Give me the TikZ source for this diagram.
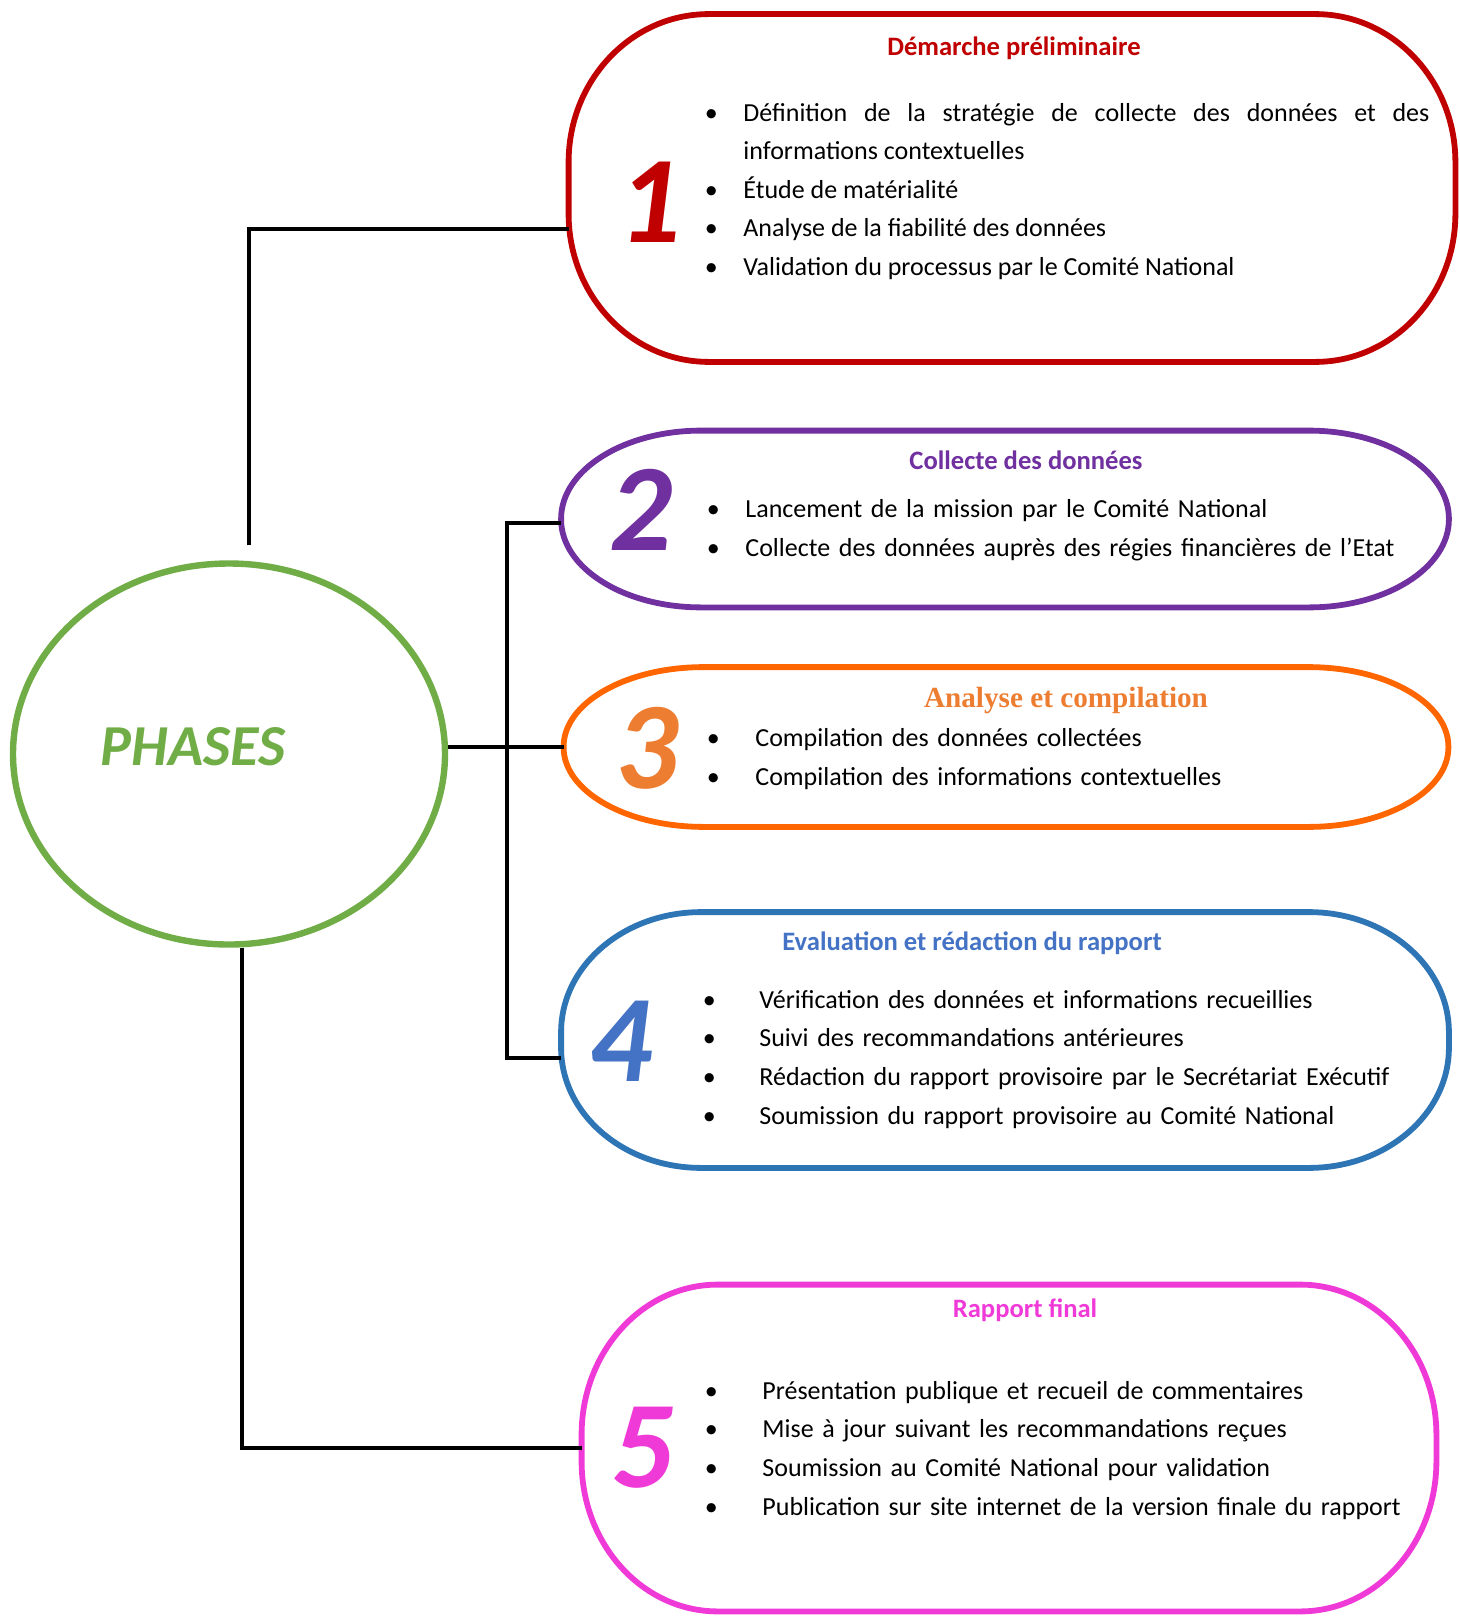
\documentclass[tikz,border=0pt]{standalone}
\usepackage{fontspec}
\setmainfont{Carlito}
\newfontfamily\serifhead{Liberation Serif}
\usepackage{enumitem}
\usetikzlibrary{shapes.geometric, positioning, calc}
\definecolor{phgreen}{HTML}{70AD47}
\definecolor{phred}{HTML}{C00000}
\definecolor{phpurple}{HTML}{7030A0}
\definecolor{phorange}{HTML}{FF6600}
\definecolor{phorangetxt}{HTML}{ED7D31}
\definecolor{phblue}{HTML}{2E75B6}
\definecolor{phbluetxt}{HTML}{4472C4}
\definecolor{phpink}{HTML}{F03AD8}

\hyphenpenalty=10000
\exhyphenpenalty=10000
\setlist[itemize]{label=\makebox[0pt]{\textbullet}, labelwidth=0pt, topsep=0pt, partopsep=0pt, itemsep=0pt, parsep=0pt}

% outline of a phase box: node, colour, corner x radius, corner y radius
\newcommand{\phaseframe}[4]{%
  \draw[frame, draw=#2] ([xshift=#3]#1.north west) -- ([xshift=-#3]#1.north east)
    arc[start angle=90, end angle=0, x radius=#3, y radius=#4]
    -- ([yshift=#4]#1.south east)
    arc[start angle=0, end angle=-90, x radius=#3, y radius=#4]
    -- ([xshift=#3]#1.south west)
    arc[start angle=270, end angle=180, x radius=#3, y radius=#4]
    -- ([yshift=-#4]#1.north west)
    arc[start angle=180, end angle=90, x radius=#3, y radius=#4] -- cycle;}

\begin{document}
\begin{tikzpicture}[
    x=0.5pt, y=-0.5pt,
    slot/.style={rectangle, draw=none, inner sep=0pt},
    frame/.style={line width=2.9pt},
    link/.style={line width=1.8pt, black},
    num/.style={inner sep=0pt, font=\fontsize{62}{62}\selectfont\bfseries\itshape},
    head/.style={inner sep=0pt, font=\fontsize{13.3}{15}\selectfont\bfseries},
    items/.style={inner sep=0pt, anchor=west, font=\fontsize{13}{19.3}\selectfont, align=left, text width=370pt}
]

    \useasboundingbox (0,0) rectangle (1460,1616);

    % centre
    \node[ellipse, draw=phgreen, line width=3.2pt, minimum width=216pt, minimum height=190.5pt, inner sep=0pt] (phases) at (229,754) {};
    \node[inner sep=0pt, text=phgreen, font=\fontsize{29}{29}\selectfont\bfseries\itshape] (phtxt) at (193,747) {PHASES};

    % phase 1
    \node[slot, minimum width=443pt, minimum height=173.5pt] (b1) at (1012,188) {};
    \phaseframe{b1}{phred}{70pt}{74pt}
    \node[head, text=phred] (t1) at (1014,48) {Démarche préliminaire};
    \node[num, text=phred] (n1) at (650,202) {1};
    \node[items, align=justify, text width=359pt] (l1) at (711,181) {%
      \begin{itemize}[leftmargin=16pt, labelsep=16pt]
        \item Définition de la stratégie de collecte des données et des\linebreak informations contextuelles
        \item Étude de matérialité
        \item Analyse de la fiabilité des données
        \item Validation du processus par le Comité National
      \end{itemize}};

    % phase 2
    \node[slot, minimum width=443.5pt, minimum height=88pt] (b2) at (1005,519) {};
    \phaseframe{b2}{phpurple}{70pt}{44pt}
    \node[head, text=phpurple] (t2) at (1026,460) {Collecte des données};
    \node[num, text=phpurple] (n2) at (641,510) {2};
    \node[items] (l2) at (713,520) {%
      \begin{itemize}[leftmargin=16pt, labelsep=16pt]
        \item Lancement de la mission par le Comité National
        \item Collecte des données auprès des régies financières de l’Etat
      \end{itemize}};

    % phase 3
    \node[slot, minimum width=442pt, minimum height=79.5pt] (b3) at (1006,747) {};
    \phaseframe{b3}{phorange}{70pt}{39.75pt}
    \node[inner sep=0pt, text=phorangetxt, font=\serifhead\fontsize{14.6}{16}\selectfont\bfseries] (t3) at (1066,701) {Analyse et compilation};
    \node[num, text=phorangetxt] (n3) at (647,748) {3};
    \node[items] (l3) at (713,749) {%
      \begin{itemize}[leftmargin=21pt, labelsep=21pt]
        \item Compilation des données collectées
        \item Compilation des informations contextuelles
      \end{itemize}};

    % phase 4
    \node[slot, minimum width=443.5pt, minimum height=127.5pt] (b4) at (1005,1040) {};
    \phaseframe{b4}{phblue}{70pt}{60pt}
    \node[head, text=phbluetxt] (t4) at (972,943) {Evaluation et rédaction du rapport};
    \node[num, text=phbluetxt] (n4) at (621,1041) {4};
    \node[items] (l4) at (709,1049) {%
      \begin{itemize}[leftmargin=25pt, labelsep=25pt]
        \item Vérification des données et informations recueillies
        \item Suivi des recommandations antérieures
        \item Rédaction du rapport provisoire par le Secrétariat Exécutif
        \item Soumission du rapport provisoire au Comité National
      \end{itemize}};

    % phase 5
    \node[slot, minimum width=427pt, minimum height=163pt] (b5) at (1009,1448) {};
    \phaseframe{b5}{phpink}{68pt}{75pt}
    \node[head, text=phpink] (t5) at (1025,1310) {Rapport final};
    \node[num, text=phpink] (n5) at (643,1448) {5};
    \node[items] (l5) at (711,1440) {%
      \begin{itemize}[leftmargin=25.5pt, labelsep=25.5pt]
        \item Présentation publique et recueil de commentaires
        \item Mise à jour suivant les recommandations reçues
        \item Soumission au Comité National pour validation
        \item Publication sur site internet de la version finale du rapport
      \end{itemize}};

    % connectors
    \coordinate (j1) at ([shift={(10pt,7.5pt)}]phases.north);
    \draw[link] (j1) |- ([yshift=-20.5pt]b1.west);
    \draw[link] ([yshift=-2pt]b2.west) -- ++(-54,0) |- ([yshift=-9pt]b4.west);
    \draw[link] (phases.east |- b3.west) -- (b3.west);
    \draw[link] ([xshift=6.5pt]phases.south) |- (b5.west);

\end{tikzpicture}
\end{document}
